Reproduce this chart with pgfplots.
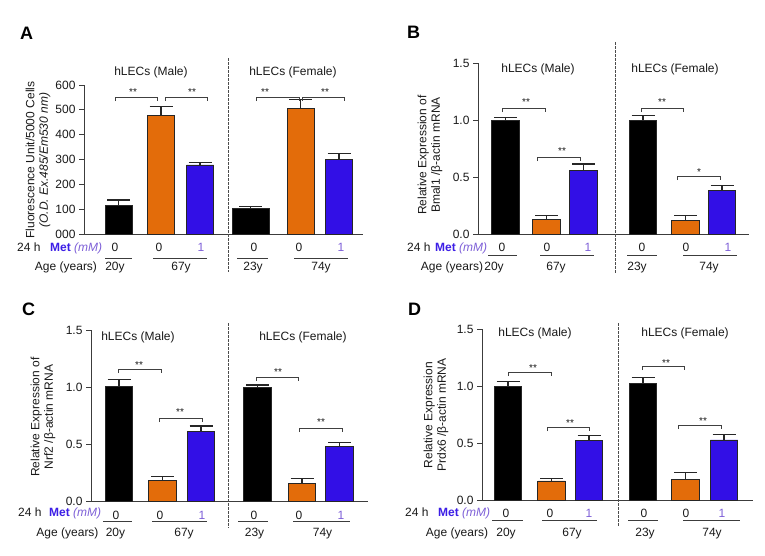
\documentclass[border=0pt]{standalone}
\usepackage{fontspec}
\setmainfont{Liberation Sans}
\usepackage{pgfplots}
\pgfplotsset{compat=1.18}

\definecolor{barorange}{RGB}{227,108,10}
\definecolor{barblue}{RGB}{50,15,230}
\definecolor{metblue}{RGB}{60,30,230}
\definecolor{mmpurple}{RGB}{125,95,215}
\definecolor{axcol}{RGB}{60,60,60}
\definecolor{txt}{RGB}{25,25,25}

\newcommand{\fs}{\fontsize{12}{13.5}\selectfont}

\pgfplotsset{
  panel/.style={
    scale only axis, anchor=south west,
    axis x line*=bottom, axis y line*=left,
    xtick=\empty, ymin=0,
    tick align=outside, major tick length=5pt,
    ytick style={draw=axcol, line width=0.9pt},
    axis line style={draw=axcol, line width=1pt},
    tick label style={font=\fs, text=txt},
    clip=false,
  },
  mybar/.style={ybar, bar width=#1, bar shift=0pt, draw=black!85, line width=0.7pt,
    /pgfplots/error bars/y dir=plus, /pgfplots/error bars/y explicit,
    /pgfplots/error bars/error mark=|,
    /pgfplots/error bars/error bar style={line width=1.1pt, black!85, solid},
    /pgfplots/error bars/error mark options={line width=1.1pt, black!85, mark size=11.5pt}},
}

\tikzset{
  sepline/.style={line width=0.7pt, draw=black!70, dash pattern=on 2.5pt off 1.5pt},
  uline/.style={line width=0.8pt, draw=axcol},
  brkline/.style={line width=0.7pt, draw=black!75},
  letter/.style={font=\fontsize{18}{18}\selectfont\bfseries, anchor=base west, inner sep=0pt},
}
\newcommand{\brk}[3]{\draw[brkline] (#1,#3+4) -- (#1,#3) -- (#2,#3) -- (#2,#3+4);}
\newcommand{\sig}[3]{\node[font=\fontsize{10}{10}\selectfont, text=txt] at (#1,#2+2) {#3};}
\newcommand{\val}[3]{\node[anchor=base, font=\fs, text=txt] at (#1,#2) {#3};}
\newcommand{\valp}[2]{\node[anchor=base, font=\fs, text=mmpurple] at (#1,#2) {1};}
\newcommand{\metrow}[3]{%
  \node[anchor=base west, inner sep=0pt, font=\fs, text=txt] at (#1,#3) {24 h};
  \node[anchor=base west, inner sep=0pt, font=\fs] at (#2,#3) {\textcolor{metblue}{\textbf{Met}}\ \textcolor{mmpurple}{\textit{(mM)}}};}

\begin{document}
\begin{tikzpicture}
\begin{scope}[x=1pt,y=-1pt]
\useasboundingbox (0,0) rectangle (765,555);
\end{scope}

% ---------------- Panel A
\begin{axis}[panel, at={(84pt,-234pt)}, width=279pt, height=149pt,
  xmin=84, xmax=363, ymax=600, ytick={0,100,...,600},
  yticklabels={000,100,200,300,400,500,600}]
\addplot[fill=black, mybar=27pt] coordinates {(118.5,115) +- (0,22)};
\addplot[fill=black, mybar=37pt] coordinates {(250.8,102) +- (0,8)};
\addplot[fill=barorange, mybar=27pt] coordinates {(161,479) +- (0,34) (300.7,507) +- (0,33)};
\addplot[fill=barblue, mybar=27pt] coordinates {(200,278) +- (0,9) (339,301) +- (0,24)};
\end{axis}

% ---------------- Panel B
\begin{axis}[panel, at={(478pt,-234pt)}, width=271pt, height=171pt,
  xmin=478, xmax=749, ymax=1.5, ytick={0,0.5,1,1.5},
  yticklabels={0.0,0.5,1.0,1.5}]
\addplot[fill=black, mybar=27.5pt] coordinates {(505.5,1.0) +- (0,0.02) (643,0.994) +- (0,0.044)};
\addplot[fill=barorange, mybar=27.5pt] coordinates {(546.5,0.129) +- (0,0.03) (685.5,0.12) +- (0,0.04)};
\addplot[fill=barblue, mybar=27.5pt] coordinates {(583.5,0.556) +- (0,0.058) (722,0.383) +- (0,0.04)};
\end{axis}

% ---------------- Panel C
\begin{axis}[panel, at={(91pt,-501pt)}, width=277pt, height=171pt,
  xmin=91, xmax=368, ymax=1.5, ytick={0,0.5,1,1.5},
  yticklabels={0.0,0.5,1.0,1.5}]
\addplot[fill=black, mybar=27.5pt] coordinates {(119,1.003) +- (0,0.064) (257.5,0.997) +- (0,0.021)};
\addplot[fill=barorange, mybar=27.5pt] coordinates {(162.5,0.181) +- (0,0.032) (302,0.155) +- (0,0.041)};
\addplot[fill=barblue, mybar=27.5pt] coordinates {(201,0.614) +- (0,0.044) (339.5,0.482) +- (0,0.033)};
\end{axis}

% ---------------- Panel D
\begin{axis}[panel, at={(482pt,-500pt)}, width=271pt, height=171pt,
  xmin=482, xmax=753, ymax=1.5, ytick={0,0.5,1,1.5},
  yticklabels={0.0,0.5,1.0,1.5}]
\addplot[fill=black, mybar=27.5pt] coordinates {(508,0.996) +- (0,0.044) (643,1.019) +- (0,0.059)};
\addplot[fill=barorange, mybar=27.5pt] coordinates {(551.5,0.167) +- (0,0.02) (685.5,0.182) +- (0,0.061)};
\addplot[fill=barblue, mybar=27.5pt] coordinates {(589,0.521) +- (0,0.044) (724,0.527) +- (0,0.05)};
\end{axis}

\begin{scope}[x=1pt,y=-1pt]
% ===== Panel A annotations
\node[letter] at (20,39) {A};
\node[font=\fs, text=txt] at (151,72) {hLECs (Male)};
\node[font=\fs, text=txt] at (293,72) {hLECs (Female)};
\draw[sepline] (228,58) -- (228,272);
\node[rotate=90, align=center, font=\fs, text=txt] at (38,160) {Fluorescence Unit/5000 Cells\\\textit{(O.D. Ex.485/Em530 nm)}};
\brk{115}{157}{97} \brk{165}{207}{97} \brk{256}{299}{97} \brk{302}{344}{97}
\sig{133}{90}{**} \sig{192}{90}{**} \sig{265}{90}{**} \sig{325}{90}{**}
\metrow{17}{50}{251}
\val{115}{251}{0} \val{159}{251}{0} \valp{201}{251} \val{254}{251}{0} \val{299}{251}{0} \valp{341}{251}
\draw[uline] (105,258) -- (132,258); \draw[uline] (153,258) -- (207,258);
\draw[uline] (237,258) -- (268,258); \draw[uline] (294,258) -- (348,258);
\val{66}{270.5}{Age (years)} \val{115}{270.5}{20y} \val{181}{270.5}{67y} \val{253}{270.5}{23y} \val{321}{270.5}{74y}

% ===== Panel B annotations
\node[letter] at (407,38) {B};
\node[font=\fs, text=txt] at (538,69) {hLECs (Male)};
\node[font=\fs, text=txt] at (675,69) {hLECs (Female)};
\draw[sepline] (615,42) -- (615,273);
\node[rotate=90, align=center, font=\fs, text=txt] at (430,155) {Relative Expression of\\Bmal1 /β-actin mRNA};
\brk{502}{545}{108} \brk{537}{580}{157} \brk{641}{683}{108} \brk{677}{720}{176}
\sig{526}{100}{**} \sig{562}{149}{**} \sig{662}{100}{**} \sig{699}{170}{*}
\metrow{407}{435}{251}
\val{502}{251}{0} \val{547}{251}{0} \valp{588}{251} \val{642}{251}{0} \val{686}{251}{0} \valp{728}{251}
\draw[uline] (488,255) -- (517,255); \draw[uline] (540,255) -- (594,255);
\draw[uline] (627,255) -- (657,255); \draw[uline] (683,255) -- (737,255);
\val{452}{270}{Age (years)} \val{494}{270}{20y} \val{556}{270}{67y} \val{637}{270}{23y} \val{709}{270}{74y}

% ===== Panel C annotations
\node[letter] at (22,315) {C};
\node[font=\fs, text=txt] at (138,337) {hLECs (Male)};
\node[font=\fs, text=txt] at (303,337) {hLECs (Female)};
\draw[sepline] (228,323) -- (228,528);
\node[rotate=90, align=center, font=\fs, text=txt] at (43,417) {Relative Expression of\\Nrf2 /β-actin mRNA};
\brk{118}{161}{369} \brk{159}{202}{418} \brk{256}{298}{377} \brk{299}{342}{428}
\sig{139}{363}{**} \sig{180}{410}{**} \sig{278}{370}{**} \sig{321}{420}{**}
\metrow{18}{49}{516.5}
\val{116}{519}{0} \val{160}{519}{0} \valp{202}{519} \val{254}{519}{0} \val{299}{519}{0} \valp{341}{519}
\draw[uline] (103,521) -- (132,521); \draw[uline] (152,521) -- (207,521);
\draw[uline] (238,521) -- (268,521); \draw[uline] (293,521) -- (350,521);
\val{67.5}{536.5}{Age (years)} \val{115.5}{536.5}{20y} \val{184}{536.5}{67y} \val{254.5}{536.5}{23y} \val{322.5}{536.5}{74y}

% ===== Panel D annotations
\node[letter] at (408,315) {D};
\node[font=\fs, text=txt] at (535,333) {hLECs (Male)};
\node[font=\fs, text=txt] at (685,333) {hLECs (Female)};
\draw[sepline] (618,323) -- (618,527);
\node[rotate=90, align=center, font=\fs, text=txt] at (436,415) {Relative Expression\\Prdx6 /β-actin mRNA};
\brk{508}{551}{372} \brk{547}{589}{427} \brk{642}{684}{366} \brk{678}{721}{425}
\sig{533}{366}{**} \sig{570}{421}{**} \sig{666}{361}{**} \sig{703}{419}{**}
\metrow{405}{438}{516.5}
\val{506}{517}{0} \val{550}{517}{0} \valp{589}{517} \val{644}{517}{0} \val{686}{517}{0} \valp{722}{517}
\draw[uline] (492,520) -- (523,520); \draw[uline] (542,520) -- (597,520);
\draw[uline] (628,520) -- (658,520); \draw[uline] (683,520) -- (740,520);
\val{457}{536.5}{Age (years)} \val{506}{536.5}{20y} \val{572}{536.5}{67y} \val{645}{536.5}{23y} \val{712}{536.5}{74y}
\end{scope}
\end{tikzpicture}
\end{document}
